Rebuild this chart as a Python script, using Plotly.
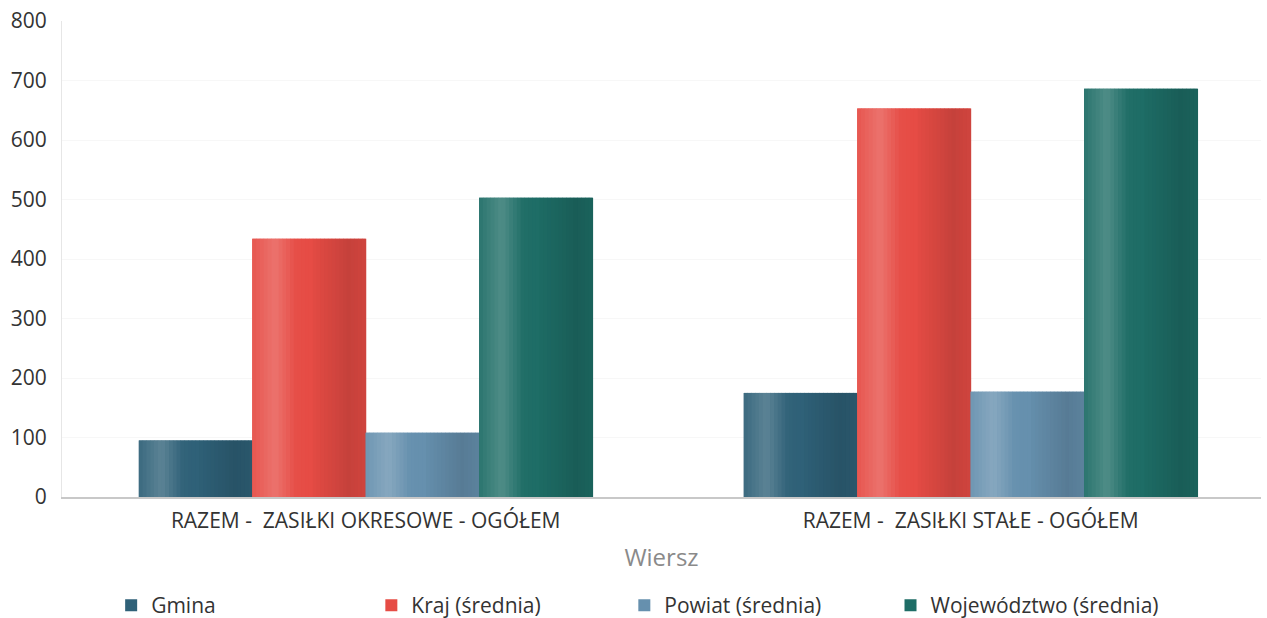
import plotly.graph_objects as go

categories = ["RAZEM -  ZASIŁKI OKRESOWE - OGÓŁEM", "RAZEM -  ZASIŁKI STAŁE - OGÓŁEM"]
series_names = ["Gmina", "Kraj (średnia)", "Powiat (średnia)", "Województwo (średnia)"]
gmina = [95, 175]
kraj = [434, 653]
powiat = [108, 177]
wojewodztwo = [503, 686]
y_ticks = [0, 100, 200, 300, 400, 500, 600, 700, 800]

values = [gmina, kraj, powiat, wojewodztwo]
colors = ["#2f6178", "#e64c45", "#6690ae", "#1e6d66"]
legend_ids = ["legend", "legend2", "legend3", "legend4"]
legend_x = [0.041, 0.258, 0.469, 0.691]

font = "Open Sans"
fig = go.Figure()

group_w = 0.75
bw = group_w / 4
# shading profile across each bar (cylinder effect): (white alpha, black alpha)
nstrip = 30
profile = []
for k in range(nstrip):
    t = (k + 0.5) / nstrip
    if t < 0.2:
        w, b = 0.06 + t * 0.8, 0.0
    elif t < 0.38:
        w, b = 0.22 - (t - 0.2) * 1.1, 0.0
    elif t < 0.55:
        w, b = max(0.0, 0.02 - (t - 0.38) * 0.2), 0.0
    elif t < 0.85:
        w, b = 0.0, 0.02 + (t - 0.55) * 0.4
    else:
        w, b = 0.0, 0.14 - (t - 0.85) * 0.3
    profile.append((w, b))

def blend(hexc, w, b):
    r, g, bl = int(hexc[1:3], 16), int(hexc[3:5], 16), int(hexc[5:7], 16)
    r = r + (255 - r) * w; g = g + (255 - g) * w; bl = bl + (255 - bl) * w
    r *= (1 - b); g *= (1 - b); bl *= (1 - b)
    return "rgb(%d,%d,%d)" % (r, g, bl)

for i, (name, vals, col) in enumerate(zip(series_names, values, colors)):
    base_off = -group_w / 2 + i * bw
    fig.add_trace(go.Bar(
        x=categories, y=vals, name=name, marker=dict(color=col, line=dict(width=0)),
        offset=base_off, width=bw, legendgroup=name, showlegend=True, legend=legend_ids[i],
    ))
    sw = bw / nstrip
    for k, (w, b) in enumerate(profile):
        fig.add_trace(go.Bar(
            x=categories, y=vals, marker=dict(color=blend(col, w, b), line=dict(width=0)),
            offset=base_off + k * sw, width=sw * 1.15, legendgroup=name, showlegend=False,
            hoverinfo="skip", legend=legend_ids[i],
        ))

legend_style = dict(
    orientation="h", xanchor="left", y=-0.228, yanchor="middle",
    font=dict(size=21, color="#333333", family=font), bgcolor="rgba(0,0,0,0)",
)

fig.update_layout(
    width=1267, height=618,
    barmode="overlay",
    plot_bgcolor="white", paper_bgcolor="white",
    margin=dict(l=62, r=6, t=21, b=121, autoexpand=False),
    font=dict(family=font, color="#333333", size=21),
    xaxis=dict(
        range=[-0.502, 1.480], showgrid=False, showline=True, linecolor="#c8c8c8", linewidth=1.5,
        ticks="", tickfont=dict(size=21, color="#333333"), ticklabelstandoff=4,
        title=dict(text="Wiersz", font=dict(size=24, color="#8a8a8a"), standoff=16),
    ),
    yaxis=dict(
        range=[0, 800], tickvals=y_ticks, showgrid=True, gridcolor="#f7f7f7",
        showline=True, linecolor="#e6e6e6", linewidth=1, zeroline=False,
        tickfont=dict(size=21, color="#333333"), ticks="", ticklabelstandoff=10,
        ticklabeloverflow="allow",
    ),
)
for lid, lx in zip(legend_ids, legend_x):
    fig.update_layout({lid: dict(legend_style, x=lx)})

fig.write_html("out.html", config={"displayModeBar": False},
               post_script="document.body.style.margin='0';")
